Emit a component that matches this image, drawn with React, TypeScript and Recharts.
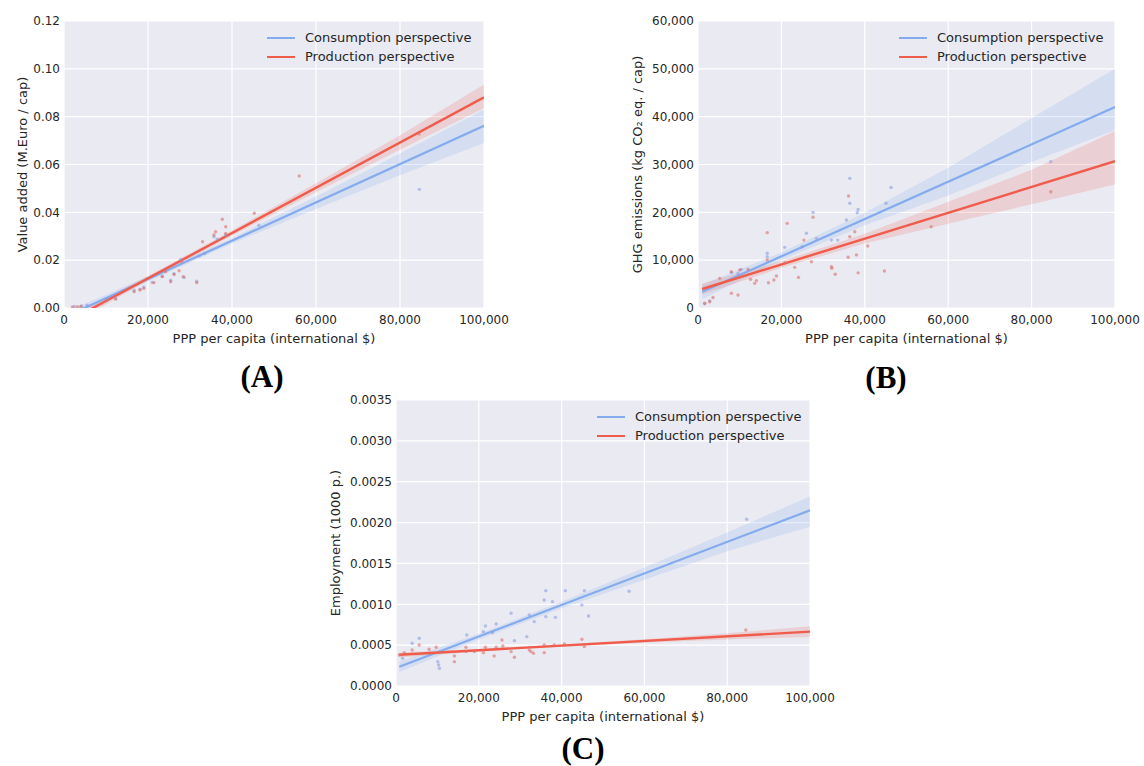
import React from 'react';
import { ComposedChart, XAxis, YAxis, CartesianGrid, Line, Area, Scatter } from 'recharts';

const BLUE = '#84abee';
const RED = '#f05c4b';
const FONT = '"DejaVu Sans", sans-serif';
const TEXT = '#262626';

const xTicks = [0, 20000, 40000, 60000, 80000, 100000];
const xTickLabels = ['0', '20,000', '40,000', '60,000', '80,000', '100,000'];
const legendLabels = ['Consumption perspective', 'Production perspective'];
const xTitle = 'PPP per capita (international $)';

// ---------- Panel A: value added ----------
const aYTicks = [0, 0.02, 0.04, 0.06, 0.08, 0.1, 0.12];
const aYTickLabels = ['0.00', '0.02', '0.04', '0.06', '0.08', '0.10', '0.12'];
const aConsLine = [{ x: 1500, y: -0.0027 }, { x: 100000, y: 0.0762 }];
const aProdLine = [{ x: 1500, y: -0.0051 }, { x: 100000, y: 0.0881 }];
const aConsBand = [
  { x: 1500, band: [-0.0045, -0.001] },
  { x: 20000, band: [0.0111, 0.0133] },
  { x: 40000, band: [0.027, 0.0293] },
  { x: 60000, band: [0.0414, 0.0466] },
  { x: 80000, band: [0.0555, 0.0646] },
  { x: 100000, band: [0.069, 0.083] },
];
const aProdBand = [
  { x: 1500, band: [-0.007, -0.0033] },
  { x: 20000, band: [0.0115, 0.0134] },
  { x: 40000, band: [0.0302, 0.0324] },
  { x: 60000, band: [0.0484, 0.0522] },
  { x: 80000, band: [0.0662, 0.0722] },
  { x: 100000, band: [0.0835, 0.0935] },
];
const aConsPts = [
  { x: 2500, y: 0.0006 }, { x: 4200, y: 0.0009 }, { x: 5500, y: 0.0012 }, { x: 10300, y: 0.0036 },
  { x: 12300, y: 0.0042 }, { x: 16700, y: 0.0074 }, { x: 18100, y: 0.0079 }, { x: 19000, y: 0.0088 },
  { x: 21000, y: 0.0107 }, { x: 23400, y: 0.0133 }, { x: 25400, y: 0.0116 }, { x: 26200, y: 0.0143 },
  { x: 27800, y: 0.0203 }, { x: 28600, y: 0.0128 }, { x: 31600, y: 0.0112 }, { x: 32200, y: 0.0218 },
  { x: 33500, y: 0.0228 }, { x: 35700, y: 0.0298 }, { x: 36500, y: 0.0288 }, { x: 38500, y: 0.0305 },
  { x: 46400, y: 0.0346 }, { x: 84600, y: 0.0496 },
];
const aProdPts = [
  { x: 2000, y: 0.0004 }, { x: 3200, y: 0.0005 }, { x: 4000, y: 0.0006 }, { x: 10300, y: 0.0033 },
  { x: 12300, y: 0.0037 }, { x: 16700, y: 0.0068 }, { x: 18100, y: 0.0075 }, { x: 19000, y: 0.0082 },
  { x: 21400, y: 0.0106 }, { x: 23400, y: 0.0131 }, { x: 24200, y: 0.0152 }, { x: 25400, y: 0.011 },
  { x: 26200, y: 0.014 }, { x: 27400, y: 0.0156 }, { x: 28000, y: 0.0194 }, { x: 28400, y: 0.0131 },
  { x: 31600, y: 0.0106 }, { x: 33000, y: 0.0277 }, { x: 35700, y: 0.0305 }, { x: 36100, y: 0.0319 },
  { x: 37700, y: 0.0371 }, { x: 38500, y: 0.034 }, { x: 38500, y: 0.0312 }, { x: 45300, y: 0.0396 },
  { x: 56000, y: 0.0552 }, { x: 84500, y: 0.0728 },
];

// ---------- Panel B: GHG emissions ----------
const bYTicks = [0, 10000, 20000, 30000, 40000, 50000, 60000];
const bYTickLabels = ['0', '10,000', '20,000', '30,000', '40,000', '50,000', '60,000'];
const bConsLine = [{ x: 1000, y: 3390 }, { x: 100000, y: 42000 }];
const bProdLine = [{ x: 1000, y: 3970 }, { x: 100000, y: 30700 }];
const bConsBand = [
  { x: 1000, band: [1900, 4900] },
  { x: 20000, band: [10000, 11600] },
  { x: 40000, band: [17300, 19900] },
  { x: 60000, band: [23500, 29300] },
  { x: 80000, band: [30500, 39700] },
  { x: 100000, band: [37200, 50000] },
];
const bProdBand = [
  { x: 1000, band: [2800, 5100] },
  { x: 20000, band: [8400, 9800] },
  { x: 40000, band: [13500, 15500] },
  { x: 60000, band: [17600, 22200] },
  { x: 80000, band: [21700, 28900] },
  { x: 100000, band: [25800, 37000] },
];
const bConsPts = [
  { x: 1600, y: 900 }, { x: 2800, y: 1500 }, { x: 8000, y: 7400 }, { x: 10400, y: 8080 },
  { x: 9600, y: 7200 }, { x: 16600, y: 11440 }, { x: 16600, y: 10740 }, { x: 20800, y: 12680 },
  { x: 26000, y: 15640 }, { x: 27600, y: 20000 }, { x: 28400, y: 14560 }, { x: 32000, y: 14200 },
  { x: 33500, y: 14200 }, { x: 35600, y: 18400 }, { x: 36400, y: 27100 }, { x: 36400, y: 21900 },
  { x: 38200, y: 19900 }, { x: 38400, y: 20600 }, { x: 45100, y: 21900 }, { x: 46300, y: 25200 },
  { x: 25000, y: 12800 }, { x: 84600, y: 30600 },
];
const bProdPts = [
  { x: 1600, y: 980 }, { x: 2800, y: 1300 }, { x: 3600, y: 2200 }, { x: 5200, y: 6200 },
  { x: 8000, y: 3070 }, { x: 9600, y: 2720 }, { x: 8000, y: 7600 }, { x: 10000, y: 7940 },
  { x: 12000, y: 8080 }, { x: 12600, y: 6000 }, { x: 13600, y: 5150 }, { x: 14000, y: 5720 },
  { x: 16600, y: 15750 }, { x: 16600, y: 10040 }, { x: 16900, y: 5290 }, { x: 18200, y: 5850 },
  { x: 18800, y: 6690 }, { x: 20900, y: 9470 }, { x: 21400, y: 17700 }, { x: 23200, y: 8500 },
  { x: 24100, y: 6400 }, { x: 25400, y: 14200 }, { x: 27200, y: 9680 }, { x: 27600, y: 18960 },
  { x: 32000, y: 8640 }, { x: 32100, y: 8300 }, { x: 32900, y: 7050 }, { x: 36100, y: 23400 },
  { x: 36000, y: 10600 }, { x: 36400, y: 14900 }, { x: 38000, y: 11100 }, { x: 38400, y: 7350 },
  { x: 37600, y: 15950 }, { x: 40700, y: 12970 }, { x: 44700, y: 7740 }, { x: 55900, y: 17000 },
  { x: 84600, y: 24300 },
];

// ---------- Panel C: employment ----------
const cYTicks = [0, 0.0005, 0.001, 0.0015, 0.002, 0.0025, 0.003, 0.0035];
const cYTickLabels = ['0.0000', '0.0005', '0.0010', '0.0015', '0.0020', '0.0025', '0.0030', '0.0035'];
const cConsLine = [{ x: 800, y: 0.000235 }, { x: 100000, y: 0.00215 }];
const cProdLine = [{ x: 800, y: 0.000382 }, { x: 100000, y: 0.000665 }];
const cConsBand = [
  { x: 800, band: [0.00017, 0.0003] },
  { x: 20000, band: [0.00057, 0.00064] },
  { x: 40000, band: [0.00095, 0.00103] },
  { x: 60000, band: [0.0013, 0.00145] },
  { x: 80000, band: [0.00165, 0.00188] },
  { x: 100000, band: [0.00195, 0.00232] },
];
const cProdBand = [
  { x: 800, band: [0.00035, 0.00041] },
  { x: 20000, band: [0.000422, 0.000452] },
  { x: 40000, band: [0.000479, 0.000509] },
  { x: 60000, band: [0.00053, 0.000572] },
  { x: 80000, band: [0.00057, 0.000646] },
  { x: 100000, band: [0.0006, 0.00073] },
];
const cConsPts = [
  { x: 1600, y: 0.00034 }, { x: 3900, y: 0.000523 }, { x: 5600, y: 0.000584 }, { x: 10100, y: 0.000297 },
  { x: 10300, y: 0.000257 }, { x: 10500, y: 0.000216 }, { x: 17100, y: 0.000624 }, { x: 21100, y: 0.000665 },
  { x: 21600, y: 0.000734 }, { x: 23300, y: 0.000653 }, { x: 24200, y: 0.000759 }, { x: 27800, y: 0.00089 },
  { x: 28600, y: 0.000555 }, { x: 31600, y: 0.000604 }, { x: 32200, y: 0.000869 }, { x: 33400, y: 0.000788 },
  { x: 35800, y: 0.001053 }, { x: 36200, y: 0.001167 }, { x: 36200, y: 0.000849 }, { x: 37800, y: 0.001032 },
  { x: 38500, y: 0.00084 }, { x: 40900, y: 0.001167 }, { x: 44900, y: 0.000991 }, { x: 45500, y: 0.001167 },
  { x: 46500, y: 0.000857 }, { x: 56300, y: 0.00116 }, { x: 84700, y: 0.00204 },
];
const cProdPts = [
  { x: 800, y: 0.00038 }, { x: 2000, y: 0.000408 }, { x: 3900, y: 0.000441 }, { x: 5600, y: 0.000502 },
  { x: 8000, y: 0.000449 }, { x: 9700, y: 0.000474 }, { x: 14100, y: 0.000368 }, { x: 14100, y: 0.000298 },
  { x: 16900, y: 0.000474 }, { x: 16900, y: 0.000421 }, { x: 18900, y: 0.000421 }, { x: 21100, y: 0.000408 },
  { x: 21600, y: 0.000474 }, { x: 23700, y: 0.000368 }, { x: 24200, y: 0.000474 }, { x: 25600, y: 0.000563 },
  { x: 25800, y: 0.00049 }, { x: 27800, y: 0.000421 }, { x: 28600, y: 0.000351 }, { x: 32200, y: 0.000441 },
  { x: 32600, y: 0.000421 }, { x: 33200, y: 0.0004 }, { x: 35800, y: 0.000502 }, { x: 35800, y: 0.000408 },
  { x: 38200, y: 0.000502 }, { x: 40700, y: 0.000515 }, { x: 44900, y: 0.000572 }, { x: 45500, y: 0.000482 },
  { x: 84500, y: 0.000685 },
];

const dot = (color: string) => (props: any) => (
  <circle cx={props.cx} cy={props.cy} r={1.7} fill={color} fillOpacity={0.6} />
);

type PanelProps = {
  left: number; top: number; width: number; height: number;
  yAxisWidth: number; marginRight: number; yLabelX: number;
  yDomain: [number, number]; yTicks: number[]; yTickLabels: string[]; yTitle: React.ReactNode;
  consLine: any[]; prodLine: any[]; consBand: any[]; prodBand: any[]; consPts: any[]; prodPts: any[];
  legendLeft: number; legendTop: number;
};

function Panel(p: PanelProps) {
  return (
    <div style={{ position: 'absolute', left: p.left, top: p.top, width: p.width, height: p.height }}>
      <ComposedChart width={p.width} height={p.height} margin={{ top: 21, right: p.marginRight, bottom: 0, left: 0 }}>
        <CartesianGrid stroke="#ffffff" strokeWidth={1.2} fill="#eaeaf2" fillOpacity={1} />
        <XAxis
          type="number" dataKey="x" domain={[0, 100000]} ticks={xTicks} allowDataOverflow
          tickFormatter={(v: number) => xTickLabels[xTicks.indexOf(v)]}
          axisLine={false} tickLine={false} tickSize={0} tickMargin={7} height={52}
          tick={{ fontFamily: FONT, fontSize: 12, fill: TEXT }} interval={0}
          label={{
            content: (lp: any) => {
              const vb = lp.viewBox;
              return (
                <text x={vb.x + vb.width / 2} y={vb.y + 30} textAnchor="middle" dominantBaseline="central"
                  fontFamily={FONT} fontSize={13} fill={TEXT}>{xTitle}</text>
              );
            },
          }}
        />
        <YAxis
          type="number" dataKey="y" domain={p.yDomain} ticks={p.yTicks} allowDataOverflow
          tickFormatter={(v: number) => p.yTickLabels[p.yTicks.indexOf(v)]}
          axisLine={false} tickLine={false} tickSize={0} tickMargin={4} width={p.yAxisWidth}
          tick={{ fontFamily: FONT, fontSize: 12, fill: TEXT }} interval={0}
          label={{
            content: (lp: any) => {
              const vb = lp.viewBox;
              const cx = vb.x + p.yLabelX;
              const cy = vb.y + vb.height / 2;
              return (
                <text x={cx} y={cy} transform={`rotate(-90, ${cx}, ${cy})`} textAnchor="middle"
                  dominantBaseline="central" fontFamily={FONT} fontSize={13} fill={TEXT}>{p.yTitle}</text>
              );
            },
          }}
        />
        <Area data={p.consBand} dataKey="band" type="linear" stroke="none" fill={BLUE} fillOpacity={0.2} isAnimationActive={false} />
        <Area data={p.prodBand} dataKey="band" type="linear" stroke="none" fill={RED} fillOpacity={0.18} isAnimationActive={false} />
        <Scatter data={p.consPts} fill={BLUE} shape={dot('#8a9ee0')} isAnimationActive={false} />
        <Scatter data={p.prodPts} fill={RED} shape={dot('#d9706a')} isAnimationActive={false} />
        <Line data={p.consLine} dataKey="y" type="linear" stroke={BLUE} strokeWidth={2.2} dot={false} isAnimationActive={false} />
        <Line data={p.prodLine} dataKey="y" type="linear" stroke={RED} strokeWidth={2.4} dot={false} isAnimationActive={false} />
      </ComposedChart>
      <div style={{ position: 'absolute', left: p.legendLeft, top: p.legendTop, fontFamily: FONT, fontSize: 13, color: TEXT, lineHeight: '19px' }}>
        {legendLabels.map((lab, i) => (
          <div key={lab} style={{ display: 'flex', alignItems: 'center', whiteSpace: 'nowrap' }}>
            <span style={{ display: 'inline-block', width: 28, height: 2, background: i === 0 ? BLUE : RED, marginRight: 10 }} />
            <span>{lab}</span>
          </div>
        ))}
      </div>
    </div>
  );
}

const panelLabelStyle: React.CSSProperties = {
  position: 'absolute', fontFamily: '"Liberation Serif", "Times New Roman", serif', fontWeight: 'bold',
  fontSize: 31, color: '#000', transform: 'translate(-50%, -50%)', lineHeight: 1,
};

export default function App() {
  return (
    <div style={{ position: 'absolute', left: 0, top: 0, width: 1144, height: 766, background: '#fff', overflow: 'hidden' }}>
      <Panel left={0} top={0} width={530} height={360} yAxisWidth={64} marginRight={46} yLabelX={22}
        yDomain={[0, 0.12]} yTicks={aYTicks} yTickLabels={aYTickLabels} yTitle="Value added (M.Euro / cap)"
        consLine={aConsLine} prodLine={aProdLine} consBand={aConsBand} prodBand={aProdBand}
        consPts={aConsPts} prodPts={aProdPts} legendLeft={267} legendTop={28} />
      <Panel left={620} top={0} width={524} height={360} yAxisWidth={78} marginRight={29} yLabelX={17}
        yDomain={[0, 60000]} yTicks={bYTicks} yTickLabels={bYTickLabels} yTitle="GHG emissions (kg CO₂ eq. / cap)"
        consLine={bConsLine} prodLine={bProdLine} consBand={bConsBand} prodBand={bProdBand}
        consPts={bConsPts} prodPts={bProdPts} legendLeft={279} legendTop={28} />
      <Panel left={310} top={379} width={550} height={359} yAxisWidth={86} marginRight={50} yLabelX={25}
        yDomain={[0, 0.0035]} yTicks={cYTicks} yTickLabels={cYTickLabels} yTitle="Employment (1000 p.)"
        consLine={cConsLine} prodLine={cProdLine} consBand={cConsBand} prodBand={cProdBand}
        consPts={cConsPts} prodPts={cProdPts} legendLeft={287} legendTop={28} />
      <div style={{ ...panelLabelStyle, left: 262, top: 376 }}>(A)</div>
      <div style={{ ...panelLabelStyle, left: 886, top: 377 }}>(B)</div>
      <div style={{ ...panelLabelStyle, left: 583, top: 748 }}>(C)</div>
    </div>
  );
}
